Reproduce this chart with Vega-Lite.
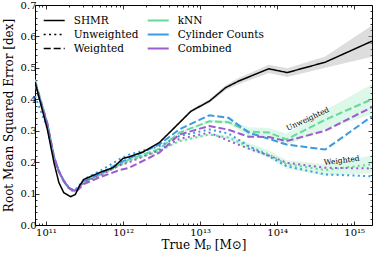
{
  "$schema": "https://vega.github.io/schema/vega-lite/v6.json",
  "width": 337,
  "height": 220,
  "autosize": {"type": "none"},
  "padding": {"left": 35, "top": 5, "right": 2, "bottom": 30},
  "background": "white",
  "config": {
    "view": {"stroke": "black", "strokeWidth": 1},
    "font": "DejaVu Serif",
    "axis": {
      "grid": false,
      "domain": false,
      "tickColor": "black",
      "tickWidth": 0.8,
      "labelColor": "black",
      "labelFont": "DejaVu Serif",
      "labelFontSize": 10,
      "titleFont": "DejaVu Serif",
      "titleFontSize": 12,
      "titleFontWeight": "normal",
      "titleColor": "black",
      "labelOverlap": false,
      "labelFlush": false
    },
    "legend": {
      "orient": "none",
      "padding": 0,
      "labelFont": "DejaVu Serif",
      "labelFontSize": 10.5,
      "labelColor": "black",
      "rowPadding": 0
    }
  },
  "datasets": {
    "curves": [
      {"method": "SHMR", "style": "SHMR", "m": 7.2e10, "v": 0.455, "lo": 0.452, "hi": 0.458},
      {"method": "SHMR", "style": "SHMR", "m": 1.04e11, "v": 0.305, "lo": 0.302, "hi": 0.308},
      {"method": "SHMR", "style": "SHMR", "m": 1.27e11, "v": 0.198, "lo": 0.195, "hi": 0.201},
      {"method": "SHMR", "style": "SHMR", "m": 1.47e11, "v": 0.135, "lo": 0.132, "hi": 0.138},
      {"method": "SHMR", "style": "SHMR", "m": 1.7e11, "v": 0.103, "lo": 0.1, "hi": 0.106},
      {"method": "SHMR", "style": "SHMR", "m": 2.08e11, "v": 0.09, "lo": 0.087, "hi": 0.093},
      {"method": "SHMR", "style": "SHMR", "m": 2.4e11, "v": 0.097, "lo": 0.094, "hi": 0.1},
      {"method": "SHMR", "style": "SHMR", "m": 2.75e11, "v": 0.127, "lo": 0.124, "hi": 0.13},
      {"method": "SHMR", "style": "SHMR", "m": 3.1e11, "v": 0.145, "lo": 0.142, "hi": 0.148},
      {"method": "SHMR", "style": "SHMR", "m": 5.0e11, "v": 0.167, "lo": 0.164, "hi": 0.17},
      {"method": "SHMR", "style": "SHMR", "m": 7.5e11, "v": 0.183, "lo": 0.18, "hi": 0.186},
      {"method": "SHMR", "style": "SHMR", "m": 1.0e12, "v": 0.212, "lo": 0.209, "hi": 0.215},
      {"method": "SHMR", "style": "SHMR", "m": 1.2e12, "v": 0.217, "lo": 0.214, "hi": 0.22},
      {"method": "SHMR", "style": "SHMR", "m": 1.8e12, "v": 0.232, "lo": 0.229, "hi": 0.235},
      {"method": "SHMR", "style": "SHMR", "m": 2.95e12, "v": 0.262, "lo": 0.259, "hi": 0.265},
      {"method": "SHMR", "style": "SHMR", "m": 4.4e12, "v": 0.304, "lo": 0.3, "hi": 0.308},
      {"method": "SHMR", "style": "SHMR", "m": 7.6e12, "v": 0.362, "lo": 0.357, "hi": 0.367},
      {"method": "SHMR", "style": "SHMR", "m": 1.32e13, "v": 0.394, "lo": 0.388, "hi": 0.4},
      {"method": "SHMR", "style": "SHMR", "m": 2.14e13, "v": 0.437, "lo": 0.429, "hi": 0.445},
      {"method": "SHMR", "style": "SHMR", "m": 3.16e13, "v": 0.458, "lo": 0.448, "hi": 0.468},
      {"method": "SHMR", "style": "SHMR", "m": 7.8e13, "v": 0.497, "lo": 0.484, "hi": 0.51},
      {"method": "SHMR", "style": "SHMR", "m": 1.35e14, "v": 0.485, "lo": 0.471, "hi": 0.499},
      {"method": "SHMR", "style": "SHMR", "m": 4.2e14, "v": 0.518, "lo": 0.5, "hi": 0.536},
      {"method": "SHMR", "style": "SHMR", "m": 1.7e15, "v": 0.585, "lo": 0.535, "hi": 0.635},

      {"method": "kNN", "style": "Weighted", "m": 7.2e10, "v": 0.462, "lo": 0.459, "hi": 0.465},
      {"method": "kNN", "style": "Weighted", "m": 1.04e11, "v": 0.325, "lo": 0.322, "hi": 0.328},
      {"method": "kNN", "style": "Weighted", "m": 1.27e11, "v": 0.218, "lo": 0.215, "hi": 0.221},
      {"method": "kNN", "style": "Weighted", "m": 1.47e11, "v": 0.172, "lo": 0.169, "hi": 0.175},
      {"method": "kNN", "style": "Weighted", "m": 1.7e11, "v": 0.14, "lo": 0.137, "hi": 0.143},
      {"method": "kNN", "style": "Weighted", "m": 1.98e11, "v": 0.118, "lo": 0.115, "hi": 0.121},
      {"method": "kNN", "style": "Weighted", "m": 2.29e11, "v": 0.108, "lo": 0.105, "hi": 0.111},
      {"method": "kNN", "style": "Weighted", "m": 2.6e11, "v": 0.115, "lo": 0.112, "hi": 0.118},
      {"method": "kNN", "style": "Weighted", "m": 3.09e11, "v": 0.137, "lo": 0.134, "hi": 0.14},
      {"method": "kNN", "style": "Weighted", "m": 5.0e11, "v": 0.16, "lo": 0.157, "hi": 0.163},
      {"method": "kNN", "style": "Weighted", "m": 9.1e11, "v": 0.193, "lo": 0.19, "hi": 0.196},
      {"method": "kNN", "style": "Weighted", "m": 1.2e12, "v": 0.209, "lo": 0.206, "hi": 0.212},
      {"method": "kNN", "style": "Weighted", "m": 2.95e12, "v": 0.242, "lo": 0.239, "hi": 0.245},
      {"method": "kNN", "style": "Weighted", "m": 5.37e12, "v": 0.294, "lo": 0.291, "hi": 0.297},
      {"method": "kNN", "style": "Weighted", "m": 1.32e13, "v": 0.33, "lo": 0.326, "hi": 0.334},
      {"method": "kNN", "style": "Weighted", "m": 2.34e13, "v": 0.327, "lo": 0.321, "hi": 0.333},
      {"method": "kNN", "style": "Weighted", "m": 4.27e13, "v": 0.297, "lo": 0.283, "hi": 0.311},
      {"method": "kNN", "style": "Weighted", "m": 7.8e13, "v": 0.294, "lo": 0.279, "hi": 0.309},
      {"method": "kNN", "style": "Weighted", "m": 1.32e14, "v": 0.272, "lo": 0.254, "hi": 0.29},
      {"method": "kNN", "style": "Weighted", "m": 4.2e14, "v": 0.335, "lo": 0.305, "hi": 0.365},
      {"method": "kNN", "style": "Weighted", "m": 1.7e15, "v": 0.4, "lo": 0.352, "hi": 0.448},

      {"method": "kNN", "style": "Unweighted", "m": 7.2e10, "v": 0.458, "lo": 0.455, "hi": 0.461},
      {"method": "kNN", "style": "Unweighted", "m": 1.04e11, "v": 0.322, "lo": 0.319, "hi": 0.325},
      {"method": "kNN", "style": "Unweighted", "m": 1.27e11, "v": 0.215, "lo": 0.212, "hi": 0.218},
      {"method": "kNN", "style": "Unweighted", "m": 1.47e11, "v": 0.17, "lo": 0.167, "hi": 0.173},
      {"method": "kNN", "style": "Unweighted", "m": 1.7e11, "v": 0.138, "lo": 0.135, "hi": 0.141},
      {"method": "kNN", "style": "Unweighted", "m": 1.98e11, "v": 0.116, "lo": 0.113, "hi": 0.119},
      {"method": "kNN", "style": "Unweighted", "m": 2.29e11, "v": 0.105, "lo": 0.102, "hi": 0.108},
      {"method": "kNN", "style": "Unweighted", "m": 2.6e11, "v": 0.113, "lo": 0.11, "hi": 0.116},
      {"method": "kNN", "style": "Unweighted", "m": 3.09e11, "v": 0.136, "lo": 0.133, "hi": 0.139},
      {"method": "kNN", "style": "Unweighted", "m": 5.0e11, "v": 0.158, "lo": 0.155, "hi": 0.161},
      {"method": "kNN", "style": "Unweighted", "m": 9.1e11, "v": 0.19, "lo": 0.187, "hi": 0.193},
      {"method": "kNN", "style": "Unweighted", "m": 1.2e12, "v": 0.205, "lo": 0.202, "hi": 0.208},
      {"method": "kNN", "style": "Unweighted", "m": 2.95e12, "v": 0.235, "lo": 0.232, "hi": 0.238},
      {"method": "kNN", "style": "Unweighted", "m": 5.37e12, "v": 0.267, "lo": 0.264, "hi": 0.27},
      {"method": "kNN", "style": "Unweighted", "m": 1.32e13, "v": 0.288, "lo": 0.285, "hi": 0.291},
      {"method": "kNN", "style": "Unweighted", "m": 2.34e13, "v": 0.278, "lo": 0.272, "hi": 0.284},
      {"method": "kNN", "style": "Unweighted", "m": 4.27e13, "v": 0.25, "lo": 0.238, "hi": 0.262},
      {"method": "kNN", "style": "Unweighted", "m": 7.8e13, "v": 0.225, "lo": 0.213, "hi": 0.237},
      {"method": "kNN", "style": "Unweighted", "m": 1.32e14, "v": 0.193, "lo": 0.179, "hi": 0.207},
      {"method": "kNN", "style": "Unweighted", "m": 4.2e14, "v": 0.175, "lo": 0.157, "hi": 0.193},
      {"method": "kNN", "style": "Unweighted", "m": 1.7e15, "v": 0.193, "lo": 0.165, "hi": 0.221},

      {"method": "Cylinder Counts", "style": "Weighted", "m": 7.2e10, "v": 0.45},
      {"method": "Cylinder Counts", "style": "Weighted", "m": 1.04e11, "v": 0.32},
      {"method": "Cylinder Counts", "style": "Weighted", "m": 1.27e11, "v": 0.215},
      {"method": "Cylinder Counts", "style": "Weighted", "m": 1.47e11, "v": 0.17},
      {"method": "Cylinder Counts", "style": "Weighted", "m": 1.7e11, "v": 0.14},
      {"method": "Cylinder Counts", "style": "Weighted", "m": 1.98e11, "v": 0.118},
      {"method": "Cylinder Counts", "style": "Weighted", "m": 2.29e11, "v": 0.11},
      {"method": "Cylinder Counts", "style": "Weighted", "m": 2.6e11, "v": 0.117},
      {"method": "Cylinder Counts", "style": "Weighted", "m": 3.09e11, "v": 0.138},
      {"method": "Cylinder Counts", "style": "Weighted", "m": 5.0e11, "v": 0.163},
      {"method": "Cylinder Counts", "style": "Weighted", "m": 9.1e11, "v": 0.198},
      {"method": "Cylinder Counts", "style": "Weighted", "m": 1.2e12, "v": 0.212},
      {"method": "Cylinder Counts", "style": "Weighted", "m": 2.95e12, "v": 0.256},
      {"method": "Cylinder Counts", "style": "Weighted", "m": 5.37e12, "v": 0.304},
      {"method": "Cylinder Counts", "style": "Weighted", "m": 1.32e13, "v": 0.349},
      {"method": "Cylinder Counts", "style": "Weighted", "m": 2.34e13, "v": 0.341},
      {"method": "Cylinder Counts", "style": "Weighted", "m": 4.27e13, "v": 0.294},
      {"method": "Cylinder Counts", "style": "Weighted", "m": 7.8e13, "v": 0.274},
      {"method": "Cylinder Counts", "style": "Weighted", "m": 1.32e14, "v": 0.256},
      {"method": "Cylinder Counts", "style": "Weighted", "m": 4.2e14, "v": 0.24},
      {"method": "Cylinder Counts", "style": "Weighted", "m": 1.7e15, "v": 0.346},

      {"method": "Cylinder Counts", "style": "Unweighted", "m": 7.2e10, "v": 0.41},
      {"method": "Cylinder Counts", "style": "Unweighted", "m": 1.04e11, "v": 0.31},
      {"method": "Cylinder Counts", "style": "Unweighted", "m": 1.27e11, "v": 0.215},
      {"method": "Cylinder Counts", "style": "Unweighted", "m": 1.47e11, "v": 0.172},
      {"method": "Cylinder Counts", "style": "Unweighted", "m": 1.7e11, "v": 0.142},
      {"method": "Cylinder Counts", "style": "Unweighted", "m": 1.98e11, "v": 0.12},
      {"method": "Cylinder Counts", "style": "Unweighted", "m": 2.29e11, "v": 0.11},
      {"method": "Cylinder Counts", "style": "Unweighted", "m": 2.6e11, "v": 0.12},
      {"method": "Cylinder Counts", "style": "Unweighted", "m": 3.09e11, "v": 0.145},
      {"method": "Cylinder Counts", "style": "Unweighted", "m": 5.0e11, "v": 0.172},
      {"method": "Cylinder Counts", "style": "Unweighted", "m": 9.1e11, "v": 0.21},
      {"method": "Cylinder Counts", "style": "Unweighted", "m": 1.2e12, "v": 0.224},
      {"method": "Cylinder Counts", "style": "Unweighted", "m": 2.95e12, "v": 0.251},
      {"method": "Cylinder Counts", "style": "Unweighted", "m": 5.37e12, "v": 0.283},
      {"method": "Cylinder Counts", "style": "Unweighted", "m": 1.32e13, "v": 0.304},
      {"method": "Cylinder Counts", "style": "Unweighted", "m": 2.34e13, "v": 0.291},
      {"method": "Cylinder Counts", "style": "Unweighted", "m": 4.27e13, "v": 0.251},
      {"method": "Cylinder Counts", "style": "Unweighted", "m": 7.8e13, "v": 0.219},
      {"method": "Cylinder Counts", "style": "Unweighted", "m": 1.32e14, "v": 0.187},
      {"method": "Cylinder Counts", "style": "Unweighted", "m": 4.2e14, "v": 0.161},
      {"method": "Cylinder Counts", "style": "Unweighted", "m": 1.7e15, "v": 0.155},

      {"method": "Combined", "style": "Weighted", "m": 7.2e10, "v": 0.455},
      {"method": "Combined", "style": "Weighted", "m": 1.04e11, "v": 0.322},
      {"method": "Combined", "style": "Weighted", "m": 1.27e11, "v": 0.215},
      {"method": "Combined", "style": "Weighted", "m": 1.47e11, "v": 0.17},
      {"method": "Combined", "style": "Weighted", "m": 1.7e11, "v": 0.14},
      {"method": "Combined", "style": "Weighted", "m": 1.98e11, "v": 0.118},
      {"method": "Combined", "style": "Weighted", "m": 2.29e11, "v": 0.108},
      {"method": "Combined", "style": "Weighted", "m": 2.6e11, "v": 0.112},
      {"method": "Combined", "style": "Weighted", "m": 3.09e11, "v": 0.13},
      {"method": "Combined", "style": "Weighted", "m": 5.0e11, "v": 0.152},
      {"method": "Combined", "style": "Weighted", "m": 9.1e11, "v": 0.175},
      {"method": "Combined", "style": "Weighted", "m": 1.2e12, "v": 0.182},
      {"method": "Combined", "style": "Weighted", "m": 2.95e12, "v": 0.23},
      {"method": "Combined", "style": "Weighted", "m": 5.37e12, "v": 0.288},
      {"method": "Combined", "style": "Weighted", "m": 1.32e13, "v": 0.315},
      {"method": "Combined", "style": "Weighted", "m": 2.34e13, "v": 0.303},
      {"method": "Combined", "style": "Weighted", "m": 4.27e13, "v": 0.281},
      {"method": "Combined", "style": "Weighted", "m": 7.8e13, "v": 0.28},
      {"method": "Combined", "style": "Weighted", "m": 1.32e14, "v": 0.267},
      {"method": "Combined", "style": "Weighted", "m": 4.2e14, "v": 0.3},
      {"method": "Combined", "style": "Weighted", "m": 1.7e15, "v": 0.375},

      {"method": "Combined", "style": "Unweighted", "m": 7.2e10, "v": 0.45},
      {"method": "Combined", "style": "Unweighted", "m": 1.04e11, "v": 0.32},
      {"method": "Combined", "style": "Unweighted", "m": 1.27e11, "v": 0.215},
      {"method": "Combined", "style": "Unweighted", "m": 1.47e11, "v": 0.17},
      {"method": "Combined", "style": "Unweighted", "m": 1.7e11, "v": 0.14},
      {"method": "Combined", "style": "Unweighted", "m": 1.98e11, "v": 0.118},
      {"method": "Combined", "style": "Unweighted", "m": 2.29e11, "v": 0.108},
      {"method": "Combined", "style": "Unweighted", "m": 2.6e11, "v": 0.114},
      {"method": "Combined", "style": "Unweighted", "m": 3.09e11, "v": 0.136},
      {"method": "Combined", "style": "Unweighted", "m": 5.0e11, "v": 0.158},
      {"method": "Combined", "style": "Unweighted", "m": 9.1e11, "v": 0.19},
      {"method": "Combined", "style": "Unweighted", "m": 1.2e12, "v": 0.2},
      {"method": "Combined", "style": "Unweighted", "m": 2.95e12, "v": 0.238},
      {"method": "Combined", "style": "Unweighted", "m": 5.37e12, "v": 0.274},
      {"method": "Combined", "style": "Unweighted", "m": 1.32e13, "v": 0.294},
      {"method": "Combined", "style": "Unweighted", "m": 2.34e13, "v": 0.268},
      {"method": "Combined", "style": "Unweighted", "m": 4.27e13, "v": 0.243},
      {"method": "Combined", "style": "Unweighted", "m": 7.8e13, "v": 0.221},
      {"method": "Combined", "style": "Unweighted", "m": 1.32e14, "v": 0.198},
      {"method": "Combined", "style": "Unweighted", "m": 4.2e14, "v": 0.182},
      {"method": "Combined", "style": "Unweighted", "m": 1.7e15, "v": 0.18}
    ]
  },
  "layer": [
    {
      "data": {"name": "curves"},
      "transform": [{"filter": "datum.method === 'SHMR'"}],
      "mark": {"type": "area", "color": "#bbbbbb", "opacity": 0.5, "clip": true},
      "encoding": {
        "x": {
          "field": "m", "type": "quantitative",
          "scale": {"type": "log", "domain": [7.2e10, 1.7e15], "nice": false},
          "axis": {
            "orient": "top", "labels": false, "title": null,
            "values": [8e10, 9e10, 1e11, 2e11, 3e11, 4e11, 5e11, 6e11, 7e11, 8e11, 9e11, 1e12, 2e12, 3e12, 4e12, 5e12, 6e12, 7e12, 8e12, 9e12, 1e13, 2e13, 3e13, 4e13, 5e13, 6e13, 7e13, 8e13, 9e13, 1e14, 2e14, 3e14, 4e14, 5e14, 6e14, 7e14, 8e14, 9e14, 1e15],
            "tickSize": {"condition": {"test": "indexof([1e11,1e12,1e13,1e14,1e15], datum.value) >= 0", "value": -4}, "value": -2}
          }
        },
        "y": {
          "field": "lo", "type": "quantitative",
          "scale": {"domain": [0, 0.7], "nice": false},
          "axis": {
            "orient": "right", "labels": false, "title": null,
            "values": [0, 0.02, 0.04, 0.06, 0.08, 0.1, 0.12, 0.14, 0.16, 0.18, 0.2, 0.22, 0.24, 0.26, 0.28, 0.3, 0.32, 0.34, 0.36, 0.38, 0.4, 0.42, 0.44, 0.46, 0.48, 0.5, 0.52, 0.54, 0.56, 0.58, 0.6, 0.62, 0.64, 0.66, 0.68, 0.7],
            "tickSize": {"condition": {"test": "indexof([0,0.1,0.2,0.3,0.4,0.5,0.6,0.7], datum.value) >= 0", "value": -4}, "value": -2}
          }
        },
        "y2": {"field": "hi"}
      }
    },
    {
      "data": {"name": "curves"},
      "transform": [{"filter": "datum.method === 'kNN'"}],
      "mark": {"type": "area", "color": "#66d99b", "opacity": 0.22, "clip": true},
      "encoding": {
        "x": {"field": "m", "type": "quantitative", "axis": null},
        "y": {"field": "lo", "type": "quantitative", "axis": null},
        "y2": {"field": "hi"},
        "detail": {"field": "style"}
      }
    },
    {
      "mark": {"type": "rule", "color": "#a0a0a0", "strokeWidth": 1, "strokeDash": [4, 3]},
      "encoding": {
        "y": {"datum": 0.2, "type": "quantitative", "axis": null}
      }
    },
    {
      "data": {"name": "curves"},
      "transform": [{"filter": "datum.method !== 'SHMR'"}],
      "mark": {"type": "line", "strokeWidth": 2, "clip": true},
      "encoding": {
        "x": {
          "field": "m", "type": "quantitative",
          "axis": {
            "orient": "bottom",
            "title": "True Mₚ [M⊙]",
            "titleBaseline": "alphabetic",
            "titleY": 23,
            "labelPadding": 6,
            "values": [8e10, 9e10, 1e11, 2e11, 3e11, 4e11, 5e11, 6e11, 7e11, 8e11, 9e11, 1e12, 2e12, 3e12, 4e12, 5e12, 6e12, 7e12, 8e12, 9e12, 1e13, 2e13, 3e13, 4e13, 5e13, 6e13, 7e13, 8e13, 9e13, 1e14, 2e14, 3e14, 4e14, 5e14, 6e14, 7e14, 8e14, 9e14, 1e15],
            "labelExpr": "datum.value == 1e11 ? '10¹¹' : datum.value == 1e12 ? '10¹²' : datum.value == 1e13 ? '10¹³' : datum.value == 1e14 ? '10¹⁴' : datum.value == 1e15 ? '10¹⁵' : ''",
            "tickSize": {"condition": {"test": "indexof([1e11,1e12,1e13,1e14,1e15], datum.value) >= 0", "value": -4}, "value": -2}
          }
        },
        "y": {
          "field": "v", "type": "quantitative",
          "axis": {
            "orient": "left",
            "title": "Root Mean Squared Error [dex]",
            "titleAngle": -90,
            "titleBaseline": "middle",
            "titleAlign": "center",
            "titleX": -27,
            "titleY": 110,
            "labelPadding": 3,
            "values": [0, 0.02, 0.04, 0.06, 0.08, 0.1, 0.12, 0.14, 0.16, 0.18, 0.2, 0.22, 0.24, 0.26, 0.28, 0.3, 0.32, 0.34, 0.36, 0.38, 0.4, 0.42, 0.44, 0.46, 0.48, 0.5, 0.52, 0.54, 0.56, 0.58, 0.6, 0.62, 0.64, 0.66, 0.68, 0.7],
            "labelExpr": "indexof([0,0.1,0.2,0.3,0.4,0.5,0.6,0.7], datum.value) >= 0 ? format(datum.value, '.1f') : ''",
            "tickSize": {"condition": {"test": "indexof([0,0.1,0.2,0.3,0.4,0.5,0.6,0.7], datum.value) >= 0", "value": -4}, "value": -2}
          }
        },
        "color": {
          "field": "method", "type": "nominal",
          "scale": {"domain": ["kNN", "Cylinder Counts", "Combined"], "range": ["#66d99b", "#3b9ae1", "#9d5cc9"]},
          "legend": {"title": null, "legendX": 114.7, "legendY": 7, "symbolType": "M-1.4,0H1.4", "symbolSize": 225, "labelOffset": 11, "symbolStrokeWidth": 2, "labelFont": "DejaVu Serif", "labelFontSize": 10.5, "rowPadding": 0}
        },
        "strokeDash": {
          "field": "style", "type": "nominal",
          "scale": {"domain": ["SHMR", "Unweighted", "Weighted"], "range": [[1, 0], [2, 3.3], [7, 3]]},
          "legend": {"title": null, "legendX": 10.7, "legendY": 7, "symbolType": "M-1.4,0H1.4", "symbolSize": 225, "labelOffset": 11, "symbolStrokeColor": "black", "symbolStrokeWidth": 1.5, "labelFont": "DejaVu Serif", "labelFontSize": 10.5, "rowPadding": 0}
        }
      }
    },
    {
      "data": {"name": "curves"},
      "transform": [{"filter": "datum.method === 'SHMR'"}],
      "mark": {"type": "line", "color": "black", "strokeWidth": 1.5, "clip": true},
      "encoding": {
        "x": {"field": "m", "type": "quantitative", "axis": null},
        "y": {"field": "v", "type": "quantitative", "axis": null},
        "strokeDash": {
          "field": "style", "type": "nominal",
          "legend": {"title": null, "legendX": 10.7, "legendY": 7, "symbolType": "M-1.4,0H1.4", "symbolSize": 225, "labelOffset": 11, "symbolStrokeColor": "black", "symbolStrokeWidth": 1.5, "labelFont": "DejaVu Serif", "labelFontSize": 10.5, "rowPadding": 0}
        }
      }
    },
    {
      "data": {"values": [{"m": 2.5e14, "v": 0.336, "label": "Unweighted"}]},
      "mark": {"type": "text", "angle": -25, "fontSize": 7.5, "font": "DejaVu Serif", "color": "black", "align": "center", "baseline": "middle"},
      "encoding": {
        "x": {"field": "m", "type": "quantitative", "axis": null},
        "y": {"field": "v", "type": "quantitative", "axis": null},
        "text": {"field": "label"}
      }
    },
    {
      "data": {"values": [{"m": 6.9e14, "v": 0.204, "label": "Weighted"}]},
      "mark": {"type": "text", "angle": -7, "fontSize": 7.5, "font": "DejaVu Serif", "color": "black", "align": "center", "baseline": "middle"},
      "encoding": {
        "x": {"field": "m", "type": "quantitative", "axis": null},
        "y": {"field": "v", "type": "quantitative", "axis": null},
        "text": {"field": "label"}
      }
    }
  ],
  "resolve": {"axis": {"x": "independent", "y": "independent"}}
}
